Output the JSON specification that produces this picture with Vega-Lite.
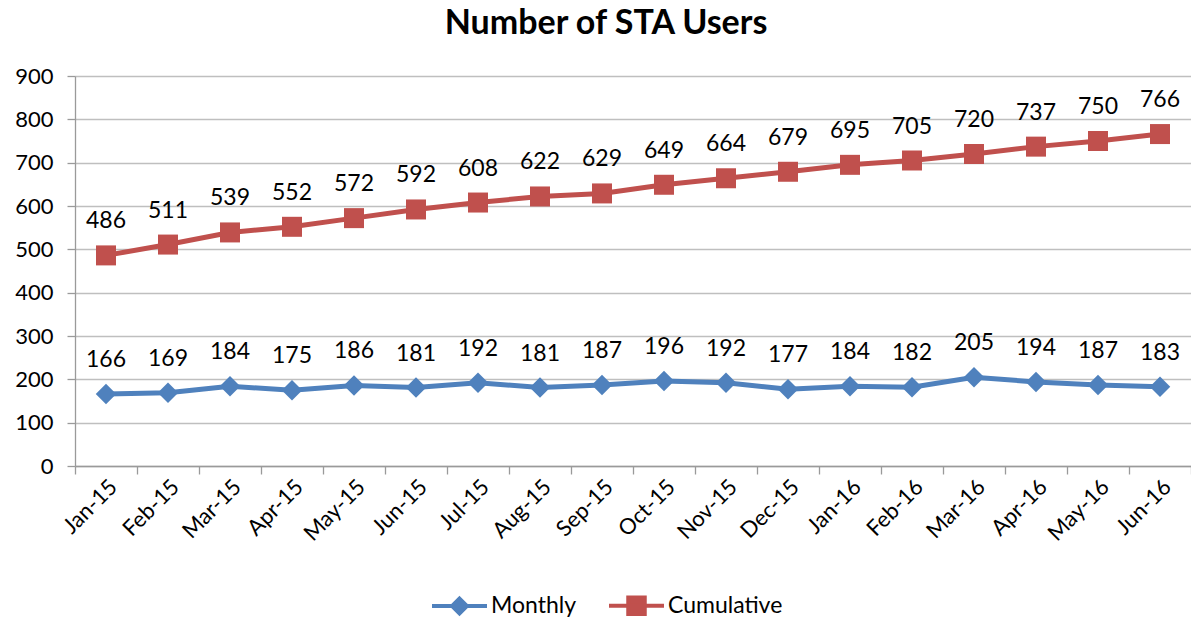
{
  "$schema": "https://vega.github.io/schema/vega-lite/v6.json",
  "autosize": {"type": "none"},
  "padding": {"left": 75, "top": 76, "right": 0, "bottom": 155},
  "width": 1116,
  "height": 390,
  "background": "white",
  "config": {
    "font": "Lato",
    "view": {"stroke": null},
    "axis": {"labelFont": "Lato", "labelColor": "#000000", "labelFontSize": 22, "gridColor": "#BFBFBF", "gridWidth": 1.3, "domainColor": "#9A9A9A", "tickColor": "#9A9A9A", "domainWidth": 1.3, "tickWidth": 1.3, "tickSize": 8}
  },
  "title": {"text": "Number of STA Users", "font": "Lato", "fontSize": 34, "fontWeight": "bold", "color": "#000000", "anchor": "middle", "offset": 24, "dx": -27},
  "data": {"values": [
    {"month": "Jan-15", "series": "Monthly", "value": 166},
    {"month": "Feb-15", "series": "Monthly", "value": 169},
    {"month": "Mar-15", "series": "Monthly", "value": 184},
    {"month": "Apr-15", "series": "Monthly", "value": 175},
    {"month": "May-15", "series": "Monthly", "value": 186},
    {"month": "Jun-15", "series": "Monthly", "value": 181},
    {"month": "Jul-15", "series": "Monthly", "value": 192},
    {"month": "Aug-15", "series": "Monthly", "value": 181},
    {"month": "Sep-15", "series": "Monthly", "value": 187},
    {"month": "Oct-15", "series": "Monthly", "value": 196},
    {"month": "Nov-15", "series": "Monthly", "value": 192},
    {"month": "Dec-15", "series": "Monthly", "value": 177},
    {"month": "Jan-16", "series": "Monthly", "value": 184},
    {"month": "Feb-16", "series": "Monthly", "value": 182},
    {"month": "Mar-16", "series": "Monthly", "value": 205},
    {"month": "Apr-16", "series": "Monthly", "value": 194},
    {"month": "May-16", "series": "Monthly", "value": 187},
    {"month": "Jun-16", "series": "Monthly", "value": 183},
    {"month": "Jan-15", "series": "Cumulative", "value": 486},
    {"month": "Feb-15", "series": "Cumulative", "value": 511},
    {"month": "Mar-15", "series": "Cumulative", "value": 539},
    {"month": "Apr-15", "series": "Cumulative", "value": 552},
    {"month": "May-15", "series": "Cumulative", "value": 572},
    {"month": "Jun-15", "series": "Cumulative", "value": 592},
    {"month": "Jul-15", "series": "Cumulative", "value": 608},
    {"month": "Aug-15", "series": "Cumulative", "value": 622},
    {"month": "Sep-15", "series": "Cumulative", "value": 629},
    {"month": "Oct-15", "series": "Cumulative", "value": 649},
    {"month": "Nov-15", "series": "Cumulative", "value": 664},
    {"month": "Dec-15", "series": "Cumulative", "value": 679},
    {"month": "Jan-16", "series": "Cumulative", "value": 695},
    {"month": "Feb-16", "series": "Cumulative", "value": 705},
    {"month": "Mar-16", "series": "Cumulative", "value": 720},
    {"month": "Apr-16", "series": "Cumulative", "value": 737},
    {"month": "May-16", "series": "Cumulative", "value": 750},
    {"month": "Jun-16", "series": "Cumulative", "value": 766}
  ]},
  "encoding": {
    "x": {"field": "month", "type": "ordinal", "sort": null, "bandPosition": 0.5,
      "scale": {"type": "band", "paddingInner": 0, "paddingOuter": 0},
      "axis": {"title": null, "labelAngle": -45, "labelAlign": "right", "labelBaseline": "top", "tickBand": "extent", "grid": false, "labelPadding": 2}},
    "y": {"field": "value", "type": "quantitative",
      "scale": {"domain": [0, 900], "nice": false},
      "axis": {"title": null, "values": [0,100,200,300,400,500,600,700,800,900], "labelPadding": 14, "grid": true}}
  },
  "layer": [
    {"mark": {"type": "line", "strokeWidth": 5},
      "encoding": {
        "color": {"field": "series", "type": "nominal",
          "scale": {"domain": ["Monthly", "Cumulative"], "range": ["#4F81BD", "#C0504D"]},
          "legend": {"title": null, "orient": "none", "direction": "horizontal", "legendX": 355, "legendY": 500,
            "labelFont": "Lato", "labelFontSize": 23, "labelColor": "#000000", "symbolSize": 3025, "labelOffset": 2, "columnPadding": 24,
            "encode": {"symbols": {"update": {
              "shape": {"signal": "datum.value === 'Monthly' ? 'M-1,0L1,0M0,-0.27L0.27,0L0,0.27L-0.27,0Z' : 'M-1,0L1,0M-0.3,-0.3L0.3,-0.3L0.3,0.3L-0.3,0.3Z'"},
              "stroke": {"signal": "datum.value === 'Monthly' ? '#4F81BD' : '#C0504D'"},
              "fill": {"signal": "datum.value === 'Monthly' ? '#4F81BD' : '#C0504D'"},
              "strokeWidth": {"value": 4},
              "opacity": {"value": 1}
            }}}}}
      }},
    {"transform": [{"filter": "datum.series === 'Monthly'"}],
      "mark": {"type": "point", "filled": true, "opacity": 1, "shape": "diamond", "size": 420, "color": "#4F81BD"}},
    {"transform": [{"filter": "datum.series === 'Cumulative'"}],
      "mark": {"type": "point", "filled": true, "opacity": 1, "shape": "square", "size": 400, "color": "#C0504D"}},
    {"mark": {"type": "text", "fontSize": 23, "font": "Lato", "color": "#000000", "baseline": "alphabetic", "dy": -27},
      "encoding": {"text": {"field": "value", "type": "quantitative"}}}
  ]
}
